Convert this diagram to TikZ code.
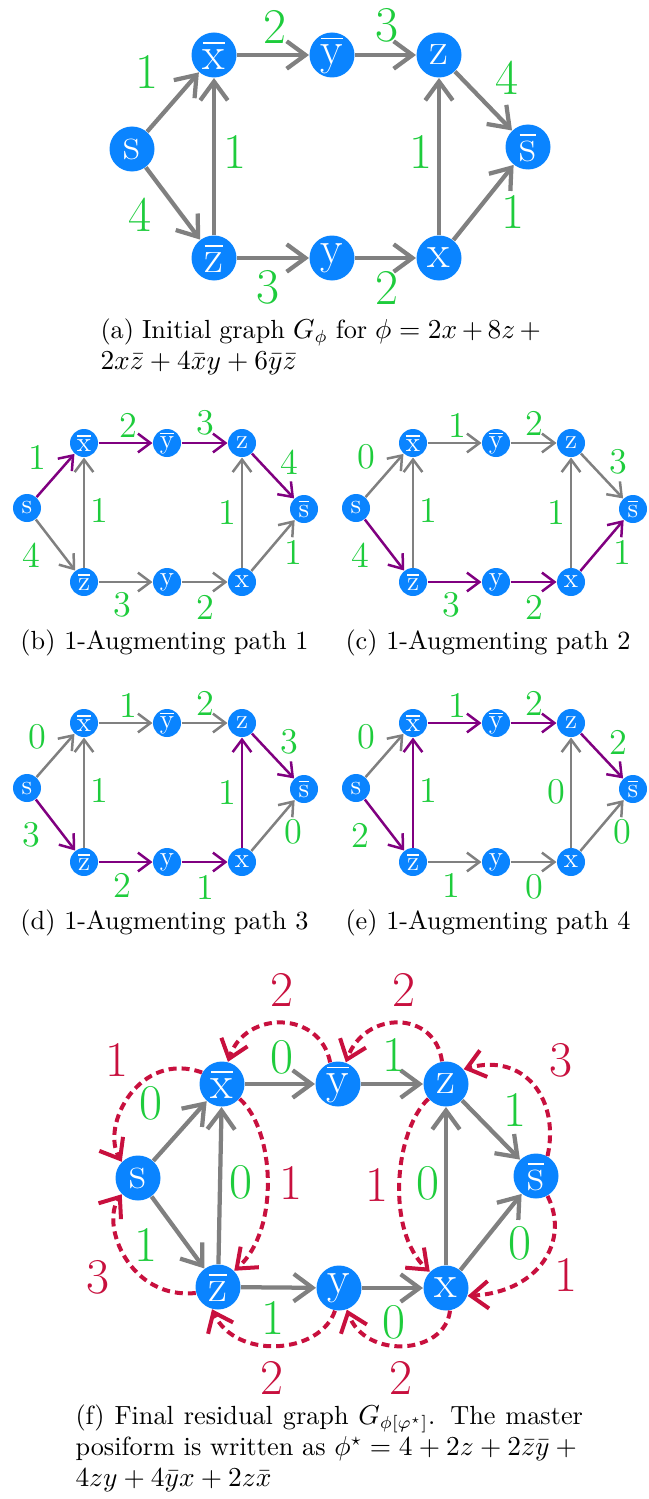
\documentclass[tikz,border=0pt]{standalone}
\usepackage{amsmath}
\usepackage{amssymb}
\usepackage{fontspec}
\usetikzlibrary{arrows.meta}
\definecolor{vblue}{HTML}{0A84FF}
\definecolor{wgreen}{HTML}{1ECC3C}
\definecolor{rred}{HTML}{C8103E}
\definecolor{apurple}{HTML}{800080}
\definecolor{egray}{HTML}{808080}
\tikzstyle{vert} = [circle, fill=vblue, text=white, inner sep=0pt, minimum size=18pt, font=\fontsize{18.5}{18.5}\selectfont]
\tikzstyle{svert} = [circle, fill=vblue, text=white, inner sep=0pt, minimum size=11.2pt, font=\fontsize{11}{11}\selectfont]
\tikzstyle{line} = [draw=egray, line width=1.7pt, -{Straight Barb[length=7.5pt,width=11pt]}]
\tikzstyle{sline} = [draw=egray, line width=1pt, -{Straight Barb[length=5pt,width=7.5pt]}]
\tikzstyle{spath} = [sline, draw=apurple]
\tikzstyle{rline} = [draw=rred, line width=1.6pt, dash pattern=on 3.2pt off 2pt, -{Straight Barb[length=7pt,width=11pt]}]
\tikzstyle{wt} = [text=wgreen, inner sep=0pt, font=\fontsize{20}{20}\selectfont]
\tikzstyle{swt} = [text=wgreen, inner sep=0pt, font=\fontsize{14.5}{14.5}\selectfont]
\tikzstyle{rt} = [text=rred, inner sep=0pt, font=\fontsize{20}{20}\selectfont]
\tikzstyle{capt} = [anchor=north west, inner sep=0pt, align=justify, font=\fontsize{10.5}{12.4}\selectfont]

\begin{document}
\begin{tikzpicture}[x=0.4pt, y=-0.4pt]
    \useasboundingbox (0,0) rectangle (648,1499);

    % (a) initial graph
    \node [vert] (s) at (132,149) {$\text{s}$};
    \node [vert] (xb) at (214,55) {$\overline{\text{x}}$};
    \node [vert] (yb) at (332,55) {$\overline{\text{y}}$};
    \node [vert] (z) at (439,55) {$\text{z}$};
    \node [vert] (sb) at (528,147) {$\overline{\text{s}}$};
    \node [vert] (zb) at (214,258) {$\overline{\text{z}}$};
    \node [vert] (y) at (332,258) {$\text{y}$};
    \node [vert] (x) at (439,258) {$\text{x}$};

    \path [line] (s) -- (xb);
    \path [line] (xb) -- (yb);
    \path [line] (yb) -- (z);
    \path [line] (z) -- (sb);
    \path [line] (zb) -- (xb);
    \path [line] (x) -- (z);
    \path [line] (s) -- (zb);
    \path [line] (zb) -- (y);
    \path [line] (y) -- (x);
    \path [line] (x) -- (sb);

    \node [wt] (a1) at (147,72) {1};
    \node [wt] (a2) at (275,27) {2};
    \node [wt] (a3) at (387,25) {3};
    \node [wt] (a4) at (507,78) {4};
    \node [wt] (a5) at (235,152) {1};
    \node [wt] (a6) at (421,152) {1};
    \node [wt] (a7) at (140,215) {4};
    \node [wt] (a8) at (268,287) {3};
    \node [wt] (a9) at (387,288) {2};
    \node [wt] (a10) at (513,212) {1};

    \node [capt, text width=178pt] (capa) at (100,318) {(a) Initial graph $G_\phi$ for $\phi = 2x + 8z +{}$\linebreak $2x\bar{z} + 4\bar{x}y + 6\bar{y}\bar{z}$};

    % (b) path 1
    \node [svert] (bs) at (27,508) {$\text{s}$};
    \node [svert] (bxb) at (84,443) {$\overline{\text{x}}$};
    \node [svert] (byb) at (167,443) {$\overline{\text{y}}$};
    \node [svert] (bz) at (242,443) {$\text{z}$};
    \node [svert] (bsb) at (304,509) {$\overline{\text{s}}$};
    \node [svert] (bzb) at (84,582) {$\overline{\text{z}}$};
    \node [svert] (by) at (167,582) {$\text{y}$};
    \node [svert] (bx) at (242,582) {$\text{x}$};

    \path [spath] (bs) -- (bxb);
    \path [spath] (bxb) -- (byb);
    \path [spath] (byb) -- (bz);
    \path [spath] (bz) -- (bsb);
    \path [sline] (bzb) -- (bxb);
    \path [sline] (bx) -- (bz);
    \path [sline] (bs) -- (bzb);
    \path [sline] (bzb) -- (by);
    \path [sline] (by) -- (bx);
    \path [sline] (bx) -- (bsb);

    \node [swt] (b1) at (37,457) {1};
    \node [swt] (b2) at (128,425) {2};
    \node [swt] (b3) at (205,423) {3};
    \node [swt] (b4) at (289,462) {4};
    \node [swt] (b5) at (99,510) {1};
    \node [swt] (b6) at (227,512) {1};
    \node [swt] (b7) at (31,555) {4};
    \node [swt] (b8) at (122,605) {3};
    \node [swt] (b9) at (205,607) {2};
    \node [swt] (b10) at (293,552) {1};

    % (c) path 2
    \begin{scope}[shift={(329,0)}]
    \node [svert] (cs) at (27,508) {$\text{s}$};
    \node [svert] (cxb) at (84,443) {$\overline{\text{x}}$};
    \node [svert] (cyb) at (167,443) {$\overline{\text{y}}$};
    \node [svert] (cz) at (242,443) {$\text{z}$};
    \node [svert] (csb) at (304,509) {$\overline{\text{s}}$};
    \node [svert] (czb) at (84,582) {$\overline{\text{z}}$};
    \node [svert] (cy) at (167,582) {$\text{y}$};
    \node [svert] (cx) at (242,582) {$\text{x}$};

    \path [sline] (cs) -- (cxb);
    \path [sline] (cxb) -- (cyb);
    \path [sline] (cyb) -- (cz);
    \path [sline] (cz) -- (csb);
    \path [sline] (czb) -- (cxb);
    \path [sline] (cx) -- (cz);
    \path [spath] (cs) -- (czb);
    \path [spath] (czb) -- (cy);
    \path [spath] (cy) -- (cx);
    \path [spath] (cx) -- (csb);

    \node [swt] (c1) at (37,457) {0};
    \node [swt] (c2) at (128,425) {1};
    \node [swt] (c3) at (205,423) {2};
    \node [swt] (c4) at (289,462) {3};
    \node [swt] (c5) at (99,510) {1};
    \node [swt] (c6) at (227,512) {1};
    \node [swt] (c7) at (31,555) {4};
    \node [swt] (c8) at (122,605) {3};
    \node [swt] (c9) at (205,607) {2};
    \node [swt] (c10) at (293,552) {1};
    \end{scope}

    % (d) path 3
    \begin{scope}[shift={(0,280)}]
    \node [svert] (ds) at (27,508) {$\text{s}$};
    \node [svert] (dxb) at (84,443) {$\overline{\text{x}}$};
    \node [svert] (dyb) at (167,443) {$\overline{\text{y}}$};
    \node [svert] (dz) at (242,443) {$\text{z}$};
    \node [svert] (dsb) at (304,509) {$\overline{\text{s}}$};
    \node [svert] (dzb) at (84,582) {$\overline{\text{z}}$};
    \node [svert] (dy) at (167,582) {$\text{y}$};
    \node [svert] (dx) at (242,582) {$\text{x}$};

    \path [sline] (ds) -- (dxb);
    \path [sline] (dxb) -- (dyb);
    \path [sline] (dyb) -- (dz);
    \path [spath] (dz) -- (dsb);
    \path [sline] (dzb) -- (dxb);
    \path [spath] (dx) -- (dz);
    \path [spath] (ds) -- (dzb);
    \path [spath] (dzb) -- (dy);
    \path [spath] (dy) -- (dx);
    \path [sline] (dx) -- (dsb);

    \node [swt] (d1) at (37,457) {0};
    \node [swt] (d2) at (128,425) {1};
    \node [swt] (d3) at (205,423) {2};
    \node [swt] (d4) at (289,462) {3};
    \node [swt] (d5) at (99,510) {1};
    \node [swt] (d6) at (227,512) {1};
    \node [swt] (d7) at (31,555) {3};
    \node [swt] (d8) at (122,605) {2};
    \node [swt] (d9) at (205,607) {1};
    \node [swt] (d10) at (293,552) {0};
    \end{scope}

    % (e) path 4
    \begin{scope}[shift={(329,280)}]
    \node [svert] (es) at (27,508) {$\text{s}$};
    \node [svert] (exb) at (84,443) {$\overline{\text{x}}$};
    \node [svert] (eyb) at (167,443) {$\overline{\text{y}}$};
    \node [svert] (ez) at (242,443) {$\text{z}$};
    \node [svert] (esb) at (304,509) {$\overline{\text{s}}$};
    \node [svert] (ezb) at (84,582) {$\overline{\text{z}}$};
    \node [svert] (ey) at (167,582) {$\text{y}$};
    \node [svert] (ex) at (242,582) {$\text{x}$};

    \path [sline] (es) -- (exb);
    \path [spath] (exb) -- (eyb);
    \path [spath] (eyb) -- (ez);
    \path [spath] (ez) -- (esb);
    \path [spath] (ezb) -- (exb);
    \path [sline] (ex) -- (ez);
    \path [spath] (es) -- (ezb);
    \path [sline] (ezb) -- (ey);
    \path [sline] (ey) -- (ex);
    \path [sline] (ex) -- (esb);

    \node [swt] (e1) at (37,457) {0};
    \node [swt] (e2) at (128,425) {1};
    \node [swt] (e3) at (205,423) {2};
    \node [swt] (e4) at (289,462) {2};
    \node [swt] (e5) at (99,510) {1};
    \node [swt] (e6) at (227,512) {0};
    \node [swt] (e7) at (31,555) {2};
    \node [swt] (e8) at (122,605) {1};
    \node [swt] (e9) at (205,607) {0};
    \node [swt] (e10) at (293,552) {0};
    \end{scope}

    \node [capt] (capb) at (20,629) {(b) 1-Augmenting path 1};
    \node [capt] (capc) at (345,629) {(c) 1-Augmenting path 2};
    \node [capt] (capd) at (20,909) {(d) 1-Augmenting path 3};
    \node [capt] (cape) at (345,909) {(e) 1-Augmenting path 4};

    % (f) final residual graph
    \node [vert] (fs) at (138,1178) {$\text{s}$};
    \node [vert] (fxb) at (222,1084) {$\overline{\text{x}}$};
    \node [vert] (fyb) at (338,1084) {$\overline{\text{y}}$};
    \node [vert] (fz) at (446,1084) {$\text{z}$};
    \node [vert] (fsb) at (536,1176) {$\overline{\text{s}}$};
    \node [vert] (fzb) at (218,1287) {$\overline{\text{z}}$};
    \node [vert] (fy) at (339,1288) {$\text{y}$};
    \node [vert] (fx) at (446,1288) {$\text{x}$};

    \path [line] (fs) -- (fxb);
    \path [line] (fxb) -- (fyb);
    \path [line] (fyb) -- (fz);
    \path [line] (fz) -- (fsb);
    \path [line] (fzb) -- (fxb);
    \path [line] (fx) -- (fz);
    \path [line] (fs) -- (fzb);
    \path [line] (fzb) -- (fy);
    \path [line] (fy) -- (fx);
    \path [line] (fx) -- (fsb);

    \path [rline] (fxb.150) .. controls (140,1050) and (100,1125) .. (fs.135);
    \path [rline] (fzb.195) .. controls (130,1300) and (100,1225) .. (fs.225);
    \path [rline] (fyb.110) .. controls (320,1010) and (245,1010) .. (fxb.75);
    \path [rline] (fz.100) .. controls (435,1010) and (365,1010) .. (fyb.70);
    \path [rline] (fxb.-40) .. controls (275,1130) and (280,1230) .. (fzb.45);
    \path [rline] (fz.220) .. controls (395,1130) and (385,1230) .. (fx.135);
    \path [rline] (fsb.60) .. controls (560,1100) and (525,1052) .. (fz.40);
    \path [rline] (fsb.-60) .. controls (570,1240) and (540,1292) .. (fx.-20);
    \path [rline] (fy.-100) .. controls (320,1355) and (235,1360) .. (fzb.-105);
    \path [rline] (fx.-80) .. controls (445,1355) and (365,1360) .. (fy.-70);

    \node [wt] (f1) at (151,1103) {0};
    \node [wt] (f2) at (282,1057) {0};
    \node [wt] (f3) at (394,1055) {1};
    \node [wt] (f4) at (515,1110) {1};
    \node [wt] (f5) at (241,1182) {0};
    \node [wt] (f6) at (428,1183) {0};
    \node [wt] (f7) at (146,1245) {1};
    \node [wt] (f8) at (520,1243) {0};
    \node [wt] (f9) at (273,1318) {1};
    \node [wt] (f10) at (394,1322) {0};

    \node [rt] (r1) at (117,1060) {1};
    \node [rt] (r2) at (98,1277) {3};
    \node [rt] (r3) at (282,990) {2};
    \node [rt] (r4) at (404,990) {2};
    \node [rt] (r5) at (291,1183) {1};
    \node [rt] (r6) at (377,1185) {1};
    \node [rt] (r7) at (561,1060) {3};
    \node [rt] (r8) at (566,1275) {1};
    \node [rt] (r9) at (272,1378) {2};
    \node [rt] (r10) at (401,1378) {2};

    \node [capt, text width=203pt] (capf) at (75,1404) {(f) Final residual graph $G_{\phi[\varphi^\star]}$. The master\linebreak posiform is written as $\phi^\star = 4 + 2z + 2\bar{z}\bar{y} +{}$\linebreak $4zy + 4\bar{y}x + 2z\bar{x}$};
\end{tikzpicture}
\end{document}
